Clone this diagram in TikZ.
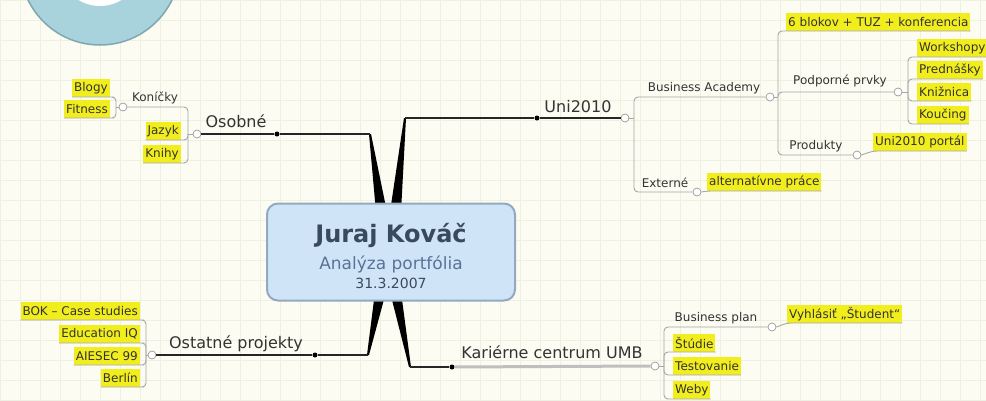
\documentclass[tikz,border=0pt]{standalone}
\usepackage{fontspec}
\setmainfont{DejaVu Sans}
\usetikzlibrary{positioning}

\definecolor{bg}{HTML}{FCFCF2}
\definecolor{gridc}{HTML}{EEF0E2}
\definecolor{hl}{HTML}{F2EE1E}
\definecolor{ring}{HTML}{A8D3DC}
\definecolor{ringd}{HTML}{7FA8B0}
\definecolor{hubfill}{HTML}{CFE5F7}
\definecolor{hubline}{HTML}{93A9C2}
\definecolor{ttl}{HTML}{3A4A5E}
\definecolor{subc}{HTML}{5A7299}
\definecolor{txt}{HTML}{333333}

\begin{document}
\begin{tikzpicture}[x=1pt,y=-1pt,
    leaf/.style={fill=hl, text=txt, inner xsep=2pt, inner ysep=0pt, minimum height=18pt,
                 font=\fontsize{12}{14}\selectfont},
    topic/.style={text=txt, inner sep=1pt, font=\fontsize{16}{18}\selectfont},
    subtopic/.style={text=txt, inner sep=1pt, font=\fontsize{12}{14}\selectfont},
    knob/.style={circle, draw=gray!80, fill=white, line width=0.7pt, minimum size=8pt, inner sep=0pt},
    bullet/.style={circle, fill=black, minimum size=5pt, inner sep=0pt},
    branch/.style={draw=gray!70, line width=0.9pt, rounded corners=4pt},
    stem/.style={draw=black!85, line width=1.1pt},
    hub/.style={rounded corners=11pt, fill=hubfill, draw=hubline, line width=2pt,
                minimum width=248pt, minimum height=97pt, align=center, inner sep=0pt,
                font=\fontsize{16}{20}\selectfont}]
    % pozadie a mriezka
    \clip (0,0) rectangle (986,400);
    \fill[bg] (0,0) rectangle (986,400);
    \foreach \gx in {0,20,...,980}
        \draw[gridc] (\gx,0) -- (\gx,400);
    \foreach \gy in {0,20,...,400}
        \draw[gridc] (0,\gy) -- (986,\gy);
    % kruh vlavo hore
    \filldraw[fill=ring, draw=ringd, line width=1.5pt] (100,-35) circle[radius=80];
    \fill[white] (100,-35) circle[radius=41];

    % hlavne vetvy (klin od stredu)
    \coordinate (cOs) at (370,134);
    \coordinate (cUni) at (405,118);
    \coordinate (cOst) at (368,355);
    \coordinate (cKar) at (410,367);
    \fill[black] (376,212) -- (387,212) -- ([xshift=1pt]cOs) -- ([xshift=-1pt]cOs) -- cycle;
    \fill[black] (390,212) -- (401,212) -- ([xshift=1pt]cUni) -- ([xshift=-1pt]cUni) -- cycle;
    \fill[black] (375,292) -- (386,292) -- ([xshift=1pt]cOst) -- ([xshift=-1pt]cOst) -- cycle;
    \fill[black] (390,292) -- (401,292) -- ([xshift=1pt]cKar) -- ([xshift=-1pt]cKar) -- cycle;

    % stred
    \node[hub] (main) at (391,252)
        {\rule{0pt}{27pt}{\fontsize{24}{26}\selectfont\bfseries\color{ttl}Juraj Kováč}\\[7pt]
         {\fontsize{17}{19}\selectfont\color{subc}Analýza portfólia}\\[-1pt]
         {\fontsize{14}{16}\selectfont\color{ttl}31.3.2007}};

    % Osobne
    \node[bullet] (dOs) at (277,134) {};
    \node[knob] (hOs) at (197,134) {};
    \node[topic] (os) at (236,121) {Osobné};
    \draw[stem] (cOs) -- (dOs) -- (hOs.east);
    \node[knob] (hKon) at (123,107) {};
    \node[subtopic] (kon) at (155,98) {Koníčky};
    \node[leaf, anchor=south east] (blo) at (110,97) {Blogy};
    \node[leaf, anchor=south east] (fit) at (110,118) {Fitness};
    \node[leaf, anchor=south east] (jaz) at (181,140) {Jazyk};
    \node[leaf, anchor=south east] (kni) at (181,163) {Knihy};
    \draw[branch] (hOs.west) -- (188,134);
    \draw[branch] (hKon.east) -| (188,134);
    \foreach \n in {jaz,kni}
        \draw[branch] (\n.south west) -- (\n.south east) -| (188,134);
    \draw[branch] (hKon.west) -- (116,107);
    \foreach \n in {blo,fit}
        \draw[branch] (\n.south west) -- (\n.south east) -| (116,107);

    % Uni2010
    \node[bullet] (dUni) at (537,118) {};
    \node[knob] (hUni) at (625,118) {};
    \node[topic] (uni) at (578,107) {Uni2010};
    \draw[stem] (cUni) -- (dUni) -- (hUni.west);
    \node[knob] (hBA) at (770,97) {};
    \node[subtopic] (ba) at (704,88) {Business Academy};
    \node[knob] (hExt) at (697,192) {};
    \node[subtopic] (ext) at (665,183) {Externé};
    \node[leaf, anchor=south west] (alt) at (707,191) {alternatívne práce};
    \draw[branch] (hUni.east) -- (634,118);
    \draw[branch] (hBA.west) -| (634,118);
    \draw[branch] (hExt.west) -| (634,118);
    \draw[branch] (hExt.east) -- (alt.south west) -- (alt.south east);
    % Business Academy
    \node[leaf, anchor=south west] (blk) at (786,31) {6 blokov + TUZ + konferencia};
    \node[knob] (hPod) at (898,92) {};
    \node[subtopic] (pod) at (840,81) {Podporné prvky};
    \node[knob] (hProd) at (857,155) {};
    \node[subtopic] (prod) at (816,146) {Produkty};
    \node[leaf, anchor=south west] (por) at (873,151) {Uni2010 portál};
    \draw[branch] (hBA.east) -- (778,97);
    \draw[branch] (blk.south east) -- (blk.south west) -| (778,97);
    \draw[branch] (hPod.west) -| (778,97);
    \draw[branch] (hProd.west) -| (778,97);
    \draw[branch] (hProd.east) -- (por.south west) -- (por.south east);
    % Podporne prvky
    \node[leaf, anchor=south west] (wor) at (917,57) {Workshopy};
    \node[leaf, anchor=south west] (pre) at (917,79) {Prednášky};
    \node[leaf, anchor=south west] (kniz) at (917,101) {Knižnica};
    \node[leaf, anchor=south west] (kou) at (917,124) {Koučing};
    \draw[branch] (hPod.east) -- (908,92);
    \foreach \n in {wor,pre,kniz,kou}
        \draw[branch] (\n.south east) -- (\n.south west) -| (908,92);

    % Ostatne projekty
    \node[bullet] (dOst) at (315,355) {};
    \node[knob] (hOst) at (152,355) {};
    \node[topic] (ost) at (236,344) {Ostatné projekty};
    \draw[stem] (cOst) -- (dOst) -- (hOst.east);
    \node[leaf, anchor=south east] (bok) at (140,320) {BOK – Case studies};
    \node[leaf, anchor=south east] (edu) at (140,343) {Education IQ};
    \node[leaf, anchor=south east] (aie) at (140,365) {AIESEC 99};
    \node[leaf, anchor=south east] (ber) at (140,387) {Berlín};
    \draw[branch] (hOst.west) -- (146,355);
    \foreach \n in {bok,edu,aie,ber}
        \draw[branch] (\n.south west) -- (\n.south east) -| (146,355);

    % Karierne centrum
    \node[bullet] (dKar) at (452,367) {};
    \node[knob] (hKar) at (655,366) {};
    \node[topic] (kar) at (552,352) {Kariérne centrum UMB};
    \draw[stem] (cKar) -- (dKar);
    \draw[gray!50, line width=3pt] (dKar) -- (hKar.west);
    \node[knob] (hBP) at (772,327) {};
    \node[subtopic] (bp) at (716,318) {Business plan};
    \node[leaf, anchor=south west] (vyh) at (787,323) {Vyhlásiť „Študent“};
    \node[leaf, anchor=south west] (stu) at (673,352) {Štúdie};
    \node[leaf, anchor=south west] (tes) at (673,375) {Testovanie};
    \node[leaf, anchor=south west] (web) at (673,399) {Weby};
    \draw[branch] (hKar.east) -- (664,366);
    \draw[branch] (hBP.west) -| (664,366);
    \draw[branch] (hBP.east) -- (vyh.south west) -- (vyh.south east);
    \foreach \n in {stu,tes,web}
        \draw[branch] (\n.south east) -- (\n.south west) -| (664,366);
\end{tikzpicture}
\end{document}
